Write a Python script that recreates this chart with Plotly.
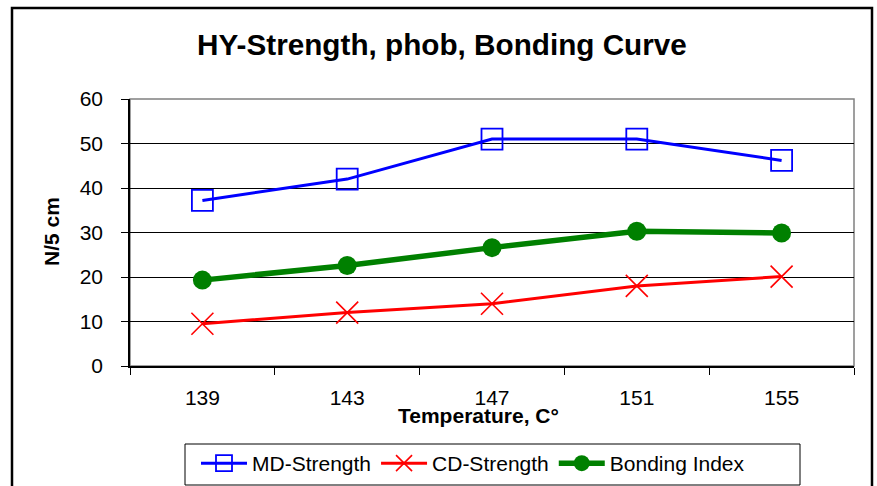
import plotly.graph_objects as go

temperatures = ["139", "143", "147", "151", "155"]
md_strength = [37.2, 42.0, 51.0, 51.0, 46.2]
cd_strength = [9.5, 12.0, 14.0, 18.0, 20.1]
bonding_index = [19.3, 22.6, 26.6, 30.3, 29.9]

W, H = 877, 486
FONT = "Arial, Liberation Sans, sans-serif"

def px_x(p):
    return p / W

def px_y(p):
    return (H - p) / H

fig = go.Figure()
fig.add_trace(go.Scatter(
    x=temperatures, y=md_strength, name="MD-Strength", mode="lines+markers",
    line=dict(color="#0000FF", width=3),
    marker=dict(symbol="square-open", size=21, color="#0000FF", line=dict(color="#0000FF", width=1.8)),
))
fig.add_trace(go.Scatter(
    x=temperatures, y=cd_strength, name="CD-Strength", mode="lines+markers",
    line=dict(color="#FF0000", width=3),
    marker=dict(symbol="x-thin", size=22, color="#FF0000", line=dict(color="#FF0000", width=1.6)),
))
fig.add_trace(go.Scatter(
    x=temperatures, y=bonding_index, name="Bonding Index", mode="lines+markers",
    line=dict(color="#008000", width=5.5),
    marker=dict(symbol="circle", size=19, color="#008000"),
))

fig.update_layout(
    width=W, height=H,
    margin=dict(l=0, r=0, t=0, b=0, autoexpand=False),
    paper_bgcolor="white", plot_bgcolor="white",
    font=dict(family=FONT, size=21, color="black"),
    showlegend=True,
    legend=dict(
        orientation="h", x=px_x(196), y=px_y(443), xanchor="left", yanchor="top",
        borderwidth=0, bgcolor="rgba(0,0,0,0)",
        font=dict(family=FONT, size=21, color="black"),
        itemwidth=46, tracegroupgap=0,
    ),
    xaxis=dict(
        type="category", domain=[px_x(130), px_x(854)], range=[-0.5, 4.5],
        tickson="boundaries", ticks="outside", ticklen=7, tickcolor="black", tickwidth=1,
        showline=True, linecolor="black", linewidth=1.5,
        showgrid=False, zeroline=False,
        tickfont=dict(family=FONT, size=21, color="black"),
        ticklabelstandoff=12,
    ),
    yaxis=dict(
        domain=[px_y(366), px_y(99)], range=[0, 60], dtick=10,
        ticks="outside", ticklen=7, tickcolor="black", tickwidth=1,
        showline=True, linecolor="black", linewidth=1.5,
        showgrid=True, gridcolor="black", gridwidth=1, zeroline=False,
        tickfont=dict(family=FONT, size=21, color="black"),
        ticklabelstandoff=14,
    ),
    shapes=[
        dict(type="rect", xref="x domain", yref="y domain", x0=0, x1=1, y0=0, y1=1,
             line=dict(color="#808080", width=1.5), layer="below"),
        dict(type="rect", xref="paper", yref="paper", x0=px_x(185), x1=px_x(800),
             y0=px_y(485), y1=px_y(444), line=dict(color="black", width=1), layer="below"),
        dict(type="rect", xref="paper", yref="paper", x0=px_x(12), x1=px_x(872),
             y0=-0.05, y1=px_y(8), line=dict(color="black", width=2.5)),
    ],
    annotations=[
        dict(text="<b>HY-Strength, phob, Bonding Curve</b>", xref="paper", yref="paper",
             x=px_x(442), y=px_y(45), showarrow=False, xanchor="center", yanchor="middle",
             font=dict(family=FONT, size=29.7, color="black")),
        dict(text="<b>Temperature, C°</b>", xref="paper", yref="paper",
             x=px_x(478), y=px_y(415), showarrow=False, xanchor="center", yanchor="middle",
             font=dict(family=FONT, size=21, color="black")),
        dict(text="<b>N/5 cm</b>", xref="paper", yref="paper",
             x=px_x(51), y=px_y(232), showarrow=False, xanchor="center", yanchor="middle",
             textangle=-90, font=dict(family=FONT, size=21, color="black")),
    ],
)

fig.write_html("out.html", config={"displayModeBar": False},
               post_script="document.body.style.margin='0';document.body.style.overflow='hidden';")
